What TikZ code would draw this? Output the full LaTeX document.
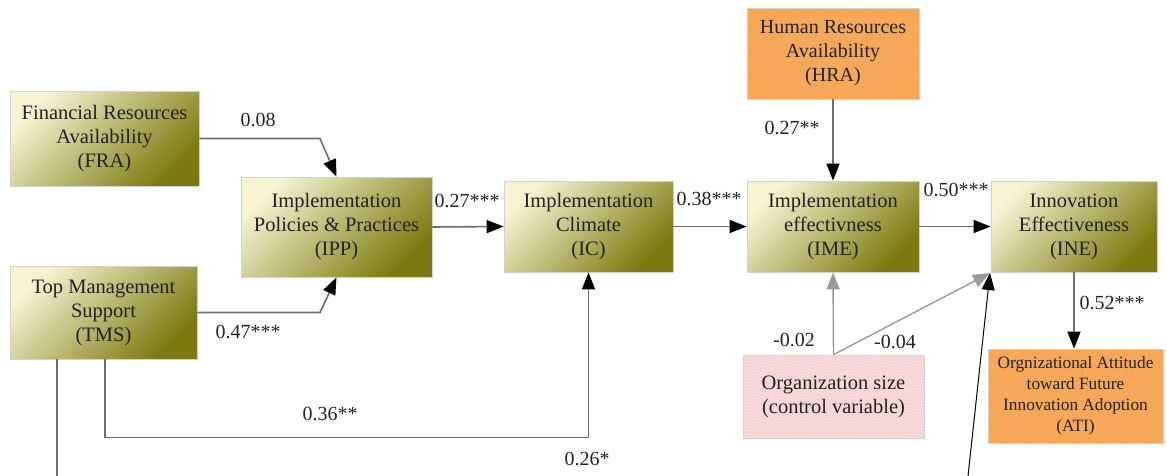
\documentclass[tikz,border=0pt]{standalone}
\usepackage{fontspec}
\setmainfont{Liberation Serif}
\newfontfamily\labelserif{Liberation Serif}
\usetikzlibrary{arrows.meta,calc,patterns}
\definecolor{oliveLight}{HTML}{F6F2D2}
\definecolor{oliveMid}{HTML}{BDB86A}
\definecolor{oliveDark}{HTML}{7C7A0E}
\definecolor{orangeFill}{HTML}{F5A14E}
\definecolor{orangeHatch}{HTML}{F8B673}
\definecolor{pinkFill}{HTML}{FBE2E2}
\definecolor{pinkHatch}{HTML}{EFC2C2}
\definecolor{boxEdge}{HTML}{D2D2CC}
\definecolor{linkGray}{HTML}{6E6E6E}
\definecolor{ctrlGray}{HTML}{9A9A9A}
\definecolor{inkText}{HTML}{222222}
\tikzset{
  x=1pt, y=-1pt,
  every node/.style={font=\labelserif, text=inkText},
  construct/.style={draw=boxEdge, line width=0.8pt, inner sep=0pt, align=center,
    font=\labelserif\fontsize{20.5}{24}\selectfont,
    top color=oliveLight, middle color=oliveMid, bottom color=oliveDark, shading angle=45},
  outcome/.style={draw=boxEdge, line width=0.8pt, inner sep=0pt, align=center,
    preaction={fill=orangeFill}, pattern=north east lines, pattern color=orangeHatch},
  control/.style={draw=boxEdge, line width=0.8pt, inner sep=0pt, align=center,
    preaction={fill=pinkFill}, pattern=north east lines, pattern color=pinkHatch,
    font=\labelserif\fontsize{20.5}{24}\selectfont},
  path/.style={draw=linkGray, line width=1.6pt, -{Triangle[length=17pt,width=13pt,color=black]}},
  plainpath/.style={draw=linkGray, line width=1.6pt},
  ctrlpath/.style={draw=ctrlGray, line width=1.4pt, -{Triangle[length=17pt,width=13pt,color=ctrlGray]}},
  coef/.style={font=\labelserif\fontsize{20}{23}\selectfont, inner sep=0pt}
}
\begin{document}
\begin{tikzpicture}
\useasboundingbox (0,0) rectangle (1167,475);

% constructs
\node[construct, minimum width=189pt, minimum height=95pt] (FRA) at (104.5,138.5)
  {Financial Resources\\Availability\\(FRA)};
\node[construct, minimum width=187pt, minimum height=93pt] (TMS) at (103.5,312.5)
  {Top Management\\Support\\(TMS)};
\node[construct, minimum width=191pt, minimum height=100pt] (IPP) at (336.5,227)
  {Implementation\\Policies \& Practices\\(IPP)};
\node[construct, minimum width=169pt, minimum height=91pt] (IC) at (588.5,226.5)
  {Implementation\\Climate\\(IC)};
\node[construct, minimum width=172pt, minimum height=91pt] (IME) at (833,226.5)
  {Implementation\\effectivness\\(IME)};
\node[construct, minimum width=166pt, minimum height=91pt] (INE) at (1074,226.5)
  {Innovation\\Effectiveness\\(INE)};
\node[outcome, minimum width=172pt, minimum height=91pt, font=\labelserif\fontsize{20}{24}\selectfont] (HRA) at (833,53.5)
  {Human Resources\\Availability\\(HRA)};
\node[outcome, minimum width=175pt, minimum height=94pt, font=\labelserif\fontsize{17.3}{21}\selectfont] (ATI) at (1075.5,396)
  {Orgnizational Attitude\\toward Future\\Innovation Adoption\\(ATI)};
\node[control, minimum width=181pt, minimum height=83pt] (ORG) at (833.5,396.5)
  {Organization size\\(control variable)};

% free ends of the paths that run past the lower edge
\coordinate (tmsDown) at (57,476);
\coordinate (ineUp) at (968,476);
\coordinate (ineIn) at (990,273);

% structural paths
\draw[path] (FRA.east) -- (320,138.5) -- (IPP.north);
\draw[path] (TMS.east) -- (320,312.5) -- (IPP.south);
\draw[path] (IPP.east) -- (IC.west);
\draw[path] (IC.west -| IC.east) -- (IME.west);
\draw[path] (IME.east) -- (INE.west);
\draw[path] (HRA.south) -- (IME.north);
\draw[path] (INE.south |- 0,272) -- (INE.south |- ATI.north);
\draw[path] ([xshift=1.5pt]TMS.south) -- ++(0,78) -| (IC.south);
\draw[plainpath] (TMS.south -| tmsDown) -- (tmsDown);
\draw[line width=1pt, -{Triangle[length=17pt,width=13pt]}] (ineUp) -- (ineIn);

% control variable
\draw[ctrlpath] (ORG.north) -- (IME.south);
\draw[ctrlpath] (ORG.north) -- (ineIn);

% coefficients
\node[coef] (c1) at (258,120) {0.08};
\node[coef] (c2) at (248,332) {0.47***};
\node[coef] (c3) at (330,414) {0.36**};
\node[coef] (c4) at (587,459) {0.26*};
\node[coef] (c5) at (467,201) {0.27***};
\node[coef] (c6) at (709,199) {0.38***};
\node[coef] (c7) at (792,128) {0.27**};
\node[coef] (c8) at (956,190) {0.50***};
\node[coef] (c9) at (1112,303) {0.52***};
\node[coef] (c10) at (794,340) {-0.02};
\node[coef] (c11) at (895,342) {-0.04};
\end{tikzpicture}
\end{document}
